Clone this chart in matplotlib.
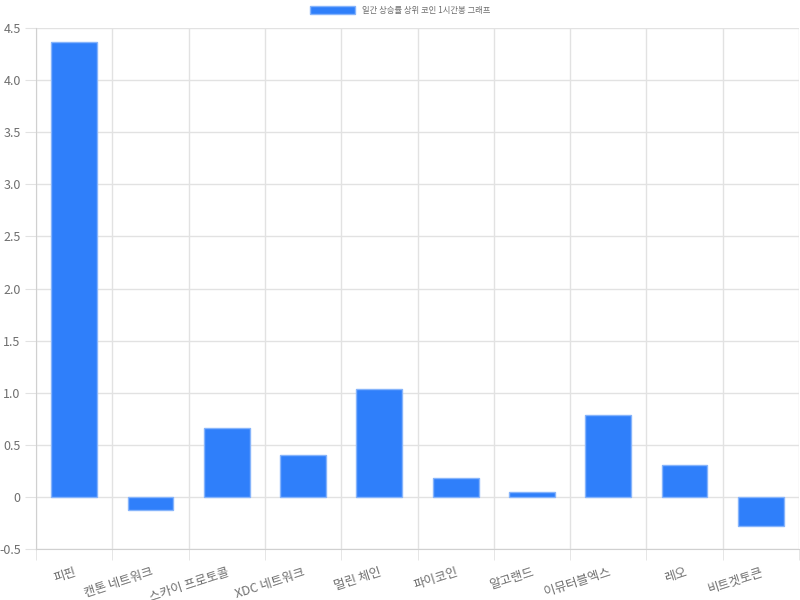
import matplotlib.pyplot as plt
import numpy as np

plt.rcParams['font.family'] = ['Noto Sans CJK KR', 'DejaVu Sans']

coins = ['피핀', '캔톤 네트워크', '스카이 프로토콜', 'XDC 네트워크', '멀린 체인',
         '파이코인', '알고랜드', '이뮤터블엑스', '레오', '비트겟토큰']
rates = [4.37, -0.13, 0.66, 0.40, 1.04, 0.18, 0.05, 0.79, 0.31, -0.28]
yticks = [-0.5, 0, 0.5, 1.0, 1.5, 2.0, 2.5, 3.0, 3.5, 4.0, 4.5]
ytick_labels = ['-0.5', '0', '0.5', '1.0', '1.5', '2.0', '2.5', '3.0', '3.5', '4.0', '4.5']

grid_c = '#e2e2e2'
text_c = '#6e6e6e'

fig = plt.figure(figsize=(8, 6), dpi=100)
ax = fig.add_axes([36/800, 1 - 549/600, 763/800, 521/600])

x = np.arange(len(coins))
bars = ax.bar(x, rates, width=0.6, color='#2f7ffa', edgecolor='#86b4fb',
              linewidth=1.0, zorder=3, label='일간 상승률 상위 코인 1시간봉 그래프')

ax.set_xlim(-0.5, len(coins) - 0.5)
ax.set_ylim(-0.5, 4.5)
ax.set_yticks(yticks)
ax.set_yticklabels(ytick_labels)

# vertical grid between categories
ax.set_xticks(np.arange(-0.5, len(coins), 1.0), minor=True)
ax.set_xticks(x)
ax.set_xticklabels(coins, rotation=18, ha='right', rotation_mode='anchor')
ax.grid(True, which='minor', axis='x', color=grid_c, linewidth=1, zorder=0)
ax.grid(True, which='major', axis='y', color=grid_c, linewidth=1, zorder=0)

ax.tick_params(axis='x', which='major', length=0, pad=12, labelsize=9, labelcolor=text_c)
ax.tick_params(axis='x', which='minor', length=8, color=grid_c)
ax.tick_params(axis='y', length=8, color=grid_c, labelsize=9, labelcolor=text_c, pad=3)

for s in ['top', 'right']:
    ax.spines[s].set_visible(False)
for s in ['left', 'bottom']:
    ax.spines[s].set_color('#d0d0d0')

leg = fig.legend(loc='upper center', bbox_to_anchor=(0.5, 1.0), frameon=False,
                 fontsize=6, handlelength=5.5, handleheight=1.2, labelcolor=text_c,
                 borderaxespad=0.3)

fig.savefig('out.png', dpi=100)
